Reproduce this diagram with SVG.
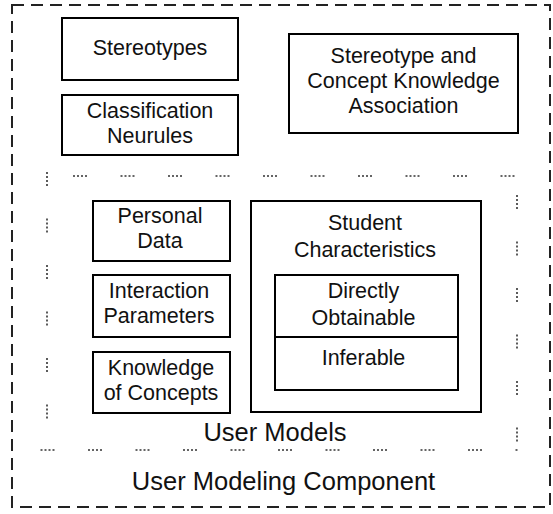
<svg xmlns="http://www.w3.org/2000/svg" width="553" height="514" viewBox="0 0 553 514">
  <style>
    .box { fill: #fff; stroke: #000; stroke-width: 2; }
    .t { font-family: "Liberation Sans", Arial, sans-serif; font-size: 21.5px; fill: #111; text-anchor: middle; }
    .big { font-family: "Liberation Sans", Arial, sans-serif; font-size: 25.5px; fill: #111; text-anchor: middle; }
    .outer { fill: none; stroke: #222; stroke-width: 2; stroke-dasharray: 12 7; }
    .dots { fill: none; stroke: #333; stroke-width: 1.6; stroke-dasharray: 2 2 2 2 2 2 2 33.5; }
  </style>
  <rect width="553" height="514" fill="#fff"/>

  <g id="user-modeling-component">
    <rect class="outer" x="12" y="5" width="538" height="502"/>
    <text class="big" x="283.5" y="490">User Modeling Component</text>
  </g>

  <g id="user-models">
    <path class="dots" d="M73 176 H516"/>
    <path class="dots" d="M47 172 V450" style="stroke-dasharray: 2 2 2 2 2 2 2 32.5"/>
    <path class="dots" d="M517 195 V450" style="stroke-dasharray: 2 2 2 2 2 2 2 32.5"/>
    <path class="dots" d="M40.5 450 H519"/>
    <text class="big" x="275" y="441">User Models</text>
  </g>

  <g id="stereotypes">
    <rect class="box" x="62" y="18" width="176" height="62"/>
    <text class="t" x="150" y="55">Stereotypes</text>
  </g>

  <g id="classification-neurules">
    <rect class="box" x="62" y="95" width="176" height="60"/>
    <text class="t" x="150" y="118">Classification</text>
    <text class="t" x="150" y="143">Neurules</text>
  </g>

  <g id="stereotype-concept-association">
    <rect class="box" x="289" y="34" width="229" height="99"/>
    <text class="t" x="403.5" y="63">Stereotype and</text>
    <text class="t" x="403.5" y="88">Concept Knowledge</text>
    <text class="t" x="403.5" y="113">Association</text>
  </g>

  <g id="personal-data">
    <rect class="box" x="93" y="201" width="137" height="60"/>
    <text class="t" x="160" y="223">Personal</text>
    <text class="t" x="160" y="248">Data</text>
  </g>

  <g id="interaction-parameters">
    <rect class="box" x="93" y="275" width="137" height="62"/>
    <text class="t" x="159" y="298">Interaction</text>
    <text class="t" x="159" y="323">Parameters</text>
  </g>

  <g id="knowledge-of-concepts">
    <rect class="box" x="93" y="352" width="137" height="61"/>
    <text class="t" x="161" y="375">Knowledge</text>
    <text class="t" x="161" y="400">of Concepts</text>
  </g>

  <g id="student-characteristics">
    <rect class="box" x="251" y="201" width="230" height="211"/>
    <text class="t" x="365" y="230">Student</text>
    <text class="t" x="365" y="257">Characteristics</text>
  </g>

  <g id="directly-obtainable">
    <rect class="box" x="275" y="275" width="183" height="62"/>
    <text class="t" x="363.5" y="298">Directly</text>
    <text class="t" x="363.5" y="325">Obtainable</text>
  </g>

  <g id="inferable">
    <rect class="box" x="275" y="337" width="183" height="53"/>
    <text class="t" x="363.5" y="365">Inferable</text>
  </g>

  <g id="connectors"/>
</svg>
